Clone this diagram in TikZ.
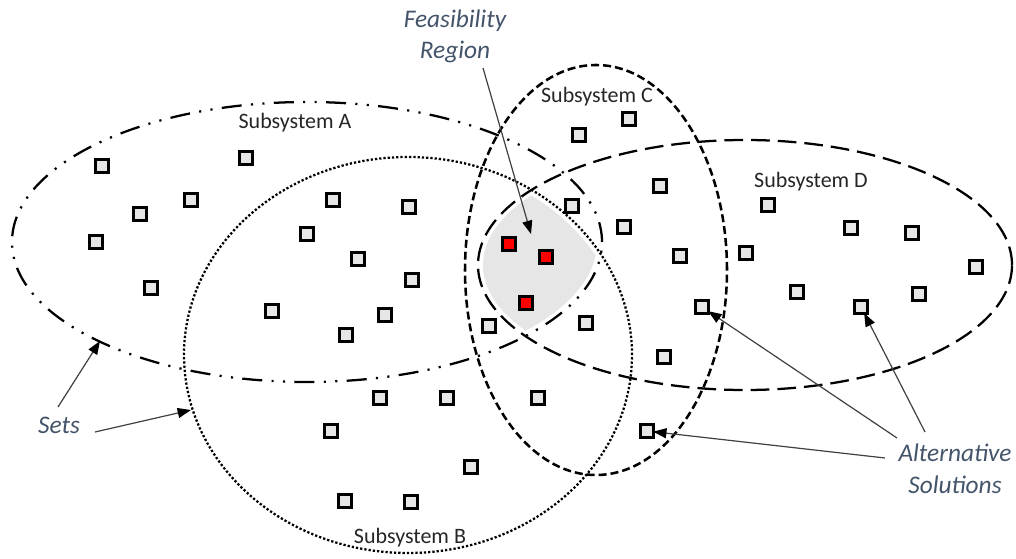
\documentclass[tikz,border=0pt]{standalone}
\usepackage{fontspec}
\setmainfont{Carlito}
\usetikzlibrary{arrows.meta}

\definecolor{labelblue}{RGB}{68,84,106}
\definecolor{subtext}{RGB}{38,38,38}
\definecolor{regiongray}{RGB}{230,230,230}
\definecolor{boxgray}{RGB}{230,230,230}
\definecolor{arrowgray}{RGB}{64,64,64}
\definecolor{chosen}{RGB}{255,0,0}

\begin{document}
\begin{tikzpicture}[x=0.75pt,y=-0.75pt,
  setline/.style={line width=1.7pt, draw=black},
  setA/.style={setline, dash pattern=on 15pt off 7pt on 1.6pt off 7pt on 1.6pt off 7pt},
  setB/.style={setline, dash pattern=on 1.7pt off 1.5pt},
  setC/.style={setline, line width=1.9pt, dash pattern=on 6pt off 3pt},
  setD/.style={setline, dash pattern=on 14pt off 6pt},
  sol/.style={draw=black, line width=2.1pt, fill=boxgray, minimum size=9.2pt,
              inner sep=0pt, outer sep=0pt},
  best/.style={sol, fill=chosen},
  subname/.style={font=\fontsize{16.5pt}{20pt}\selectfont, text=subtext,
                  anchor=base, inner sep=0pt},
  callout/.style={font=\fontsize{19pt}{23.5pt}\selectfont\itshape, text=labelblue,
                  align=center, anchor=base, inner sep=0pt},
  pointer/.style={draw=arrowgray, line width=0.9pt,
                  -{Triangle[length=10pt,width=7.5pt,color=black]}}
]
% page
\fill[white] (0,0) rectangle (1016,559);
\useasboundingbox (0,0) rectangle (1016,559);

% feasibility region: common part of A, B and D
\begin{scope}
  \clip (307,242) ellipse [x radius=217.5pt, y radius=101.25pt];
  \clip (408,355) ellipse [x radius=164.25pt, y radius=144.75pt];
  \fill[regiongray] (745,265) ellipse [x radius=196.5pt, y radius=90pt];
\end{scope}

% the four sets
\draw[setA] (307,242) ellipse [x radius=221.25pt, y radius=105pt];
\draw[setB] (408,355) ellipse [x radius=168pt, y radius=148.5pt];
\draw[setC] (596,270) ellipse [x radius=98.25pt, y radius=153.75pt];
\draw[setD] (745,265) ellipse [x radius=200.25pt, y radius=93.75pt];

% set names
\node[subname] (nameA) at (295,129) {Subsystem A};
\node[subname] (nameB) at (410,543) {Subsystem B};
\node[subname] (nameC) at (597,103) {Subsystem C};
\node[subname] (nameD) at (811,188) {Subsystem D};

% alternative solutions
\foreach \p [count=\i] in {(102,166),(246,158),(140,214),(191,200),(96,242),(151,288),
  (333,200),(409,207),(307,234),(358,259),(412,280),(272,311),(385,315),(346,335),
  (579,135),(629,119),(660,186),(572,206),(624,227),(680,256),
  (768,205),(851,228),(912,233),(746,253),(976,267),(797,292),(919,294),(861,307),
  (702,307),(586,323),(489,326),(664,357),
  (380,398),(447,398),(538,398),(331,431),(647,431),(471,467),(345,501),(411,502)}
  \node[sol] (s\i) at \p {};

% feasible solutions
\node[best] (r1) at (509,244) {};
\node[best] (r2) at (546,257) {};
\node[best] (r3) at (526,303) {};

% callout texts (base = last line)
\node[callout] (feas) at (455,59) {Feasibility\\Region};
\node[callout] (sets) at (59,433) {Sets};
\node[callout] (alt) at (955,493) {Alternative\\Solutions};

% arrow ends
\coordinate (feasfoot) at (483,68);
\coordinate (feastip) at (531,234);
\coordinate (setsfootA) at (58,407);
\coordinate (setsfootB) at (95,432);
\coordinate (edgeA) at (100,341);
\coordinate (edgeB) at (191,410);
\coordinate (altfoot1) at (897,438);
\coordinate (altfoot2) at (925,432);
\coordinate (altfoot3) at (885,458);

% pointers
\draw[pointer] (feasfoot) -- (feastip);
\draw[pointer] (setsfootA) -- (edgeA);
\draw[pointer] (setsfootB) -- (edgeB);
\draw[pointer] (altfoot1) -- (s29);
\draw[pointer] (altfoot2) -- (s28);
\draw[pointer] (altfoot3) -- (s37);
\end{tikzpicture}
\end{document}
